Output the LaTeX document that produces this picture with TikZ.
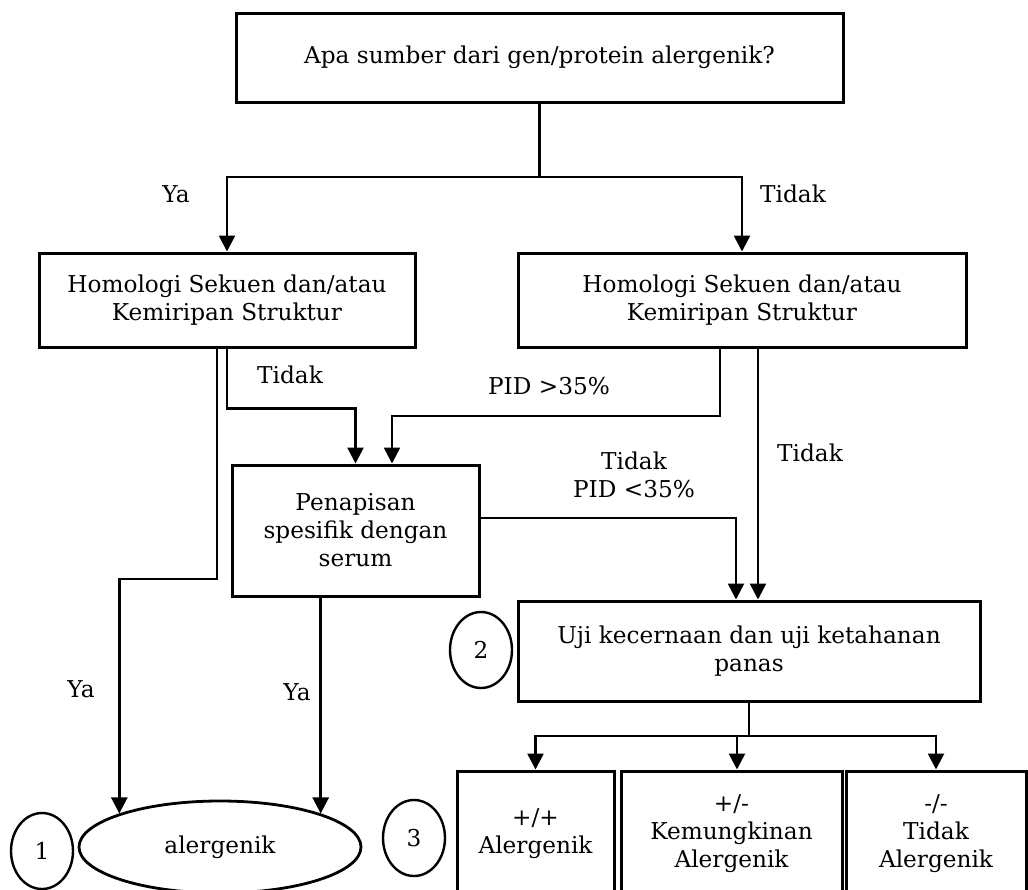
\documentclass[tikz,border=0pt]{standalone}
\usepackage{fontspec}
\setmainfont{DejaVu Serif}
\usepackage{tikz}
\usetikzlibrary{arrows.meta}
\usetikzlibrary{shapes}
\tikzset{box/.style={draw,line width=1.5pt,align=center,inner sep=0pt},
 oval/.style={draw,ellipse,line width=1.4pt,inner sep=0pt},
 num/.style={draw,ellipse,line width=1.2pt,minimum width=31,minimum height=38,inner sep=0pt},
 lbl/.style={align=center,inner sep=0pt},
 arr/.style={line width=1.3pt,-{Triangle[length=8pt,width=8pt]}},
 ln/.style={line width=1.3pt},
 }

\begin{document}
\begin{tikzpicture}[x=0.5pt,y=-0.5pt,font=\fontsize{11.6}{14}\selectfont]
        \useasboundingbox (0,0) rectangle (1028,889);
        % boxes
        \node[box,minimum width=303.5,minimum height=44.5] (top) at (539.5,57.5) {Apa sumber dari gen/protein alergenik?};
        \node[box,minimum width=188,minimum height=47] (h1) at (227,300) {Homologi Sekuen dan/atau\\Kemiripan Struktur};
        \node[box,minimum width=224,minimum height=47] (h2) at (742,300) {Homologi Sekuen dan/atau\\Kemiripan Struktur};
        \node[box,minimum width=123.5,minimum height=65.5] (pen) at (355.5,530.5) {Penapisan\\spesifik dengan\\serum};
        \node[box,minimum width=231,minimum height=50] (uji) at (749,651) {Uji kecernaan dan uji ketahanan\\panas};
        \node[box,minimum width=78.5,minimum height=63] (pA) at (535.5,834) {+/+\\Alergenik};
        \node[box,minimum width=110.5,minimum height=63] (pB) at (731.5,834) {+/-\\Kemungkinan\\Alergenik};
        \node[box,minimum width=90,minimum height=63] (pC) at (936,834) {-/-\\Tidak\\Alergenik};
        \node[oval,minimum width=141,minimum height=46] (al) at (220,847) {alergenik};
        \node[num] (n1) at (42,851) {1};
        \node[num] (n2) at (481,650) {2};
        \node[num] (n3) at (414,838) {3};
        % labels
        \node[lbl] (ya1) at (176,194) {Ya};
        \node[lbl] (td1) at (793,194) {Tidak};
        \node[lbl] (td2) at (290,375) {Tidak};
        \node[lbl] (pid1) at (549,386) {PID >35\%};
        \node[lbl] (pid2) at (634,475) {Tidak\\PID <35\%};
        \node[lbl] (td3) at (810,453) {Tidak};
        \node[lbl] (ya2) at (81,689) {Ya};
        \node[lbl] (ya3) at (297,692) {Ya};
        % connectors
        \coordinate (split) at (539.5,177);
        \draw[ln] (top) -- (split);
        \draw[arr] (split) -| (h1);
        \draw[arr] (split) -| (h2);
        \coordinate (k1) at (217,579);
        \coordinate (k2) at (al.north west |- k1);
        \draw[arr] (h1.south -| k1) -- (k1) -- (k2) -- (al.north west);
        \draw[arr] (h1.south) -- ++(0,60) -| (pen.north);
        \coordinate (pidR) at (720,416);
        \coordinate (pidL) at (392,416);
        \draw[arr] (h2.south -| pidR) -- (pidR) -- (pidL) -- (pidL |- pen.north);
        \coordinate (tdk) at (758,400);
        \draw[arr] (h2.south -| tdk) -- (tdk |- uji.north);
        \coordinate (pk) at (736,518);
        \draw[arr] (pen.east |- pk) -- (pk) -- (pk |- uji.north);
        \draw[arr] (pen.south -| al.north east) -- (al.north east);
        \coordinate (fork) at (749,736);
        \coordinate (fB) at (737,736);
        \draw[ln] (uji.south) -- (fork);
        \draw[arr] (fork) -| (pA.north);
        \draw[arr] (fB) -- (fB |- pB.north);
        \draw[arr] (fork) -| (pC.north);
    \end{tikzpicture}
\end{document}
